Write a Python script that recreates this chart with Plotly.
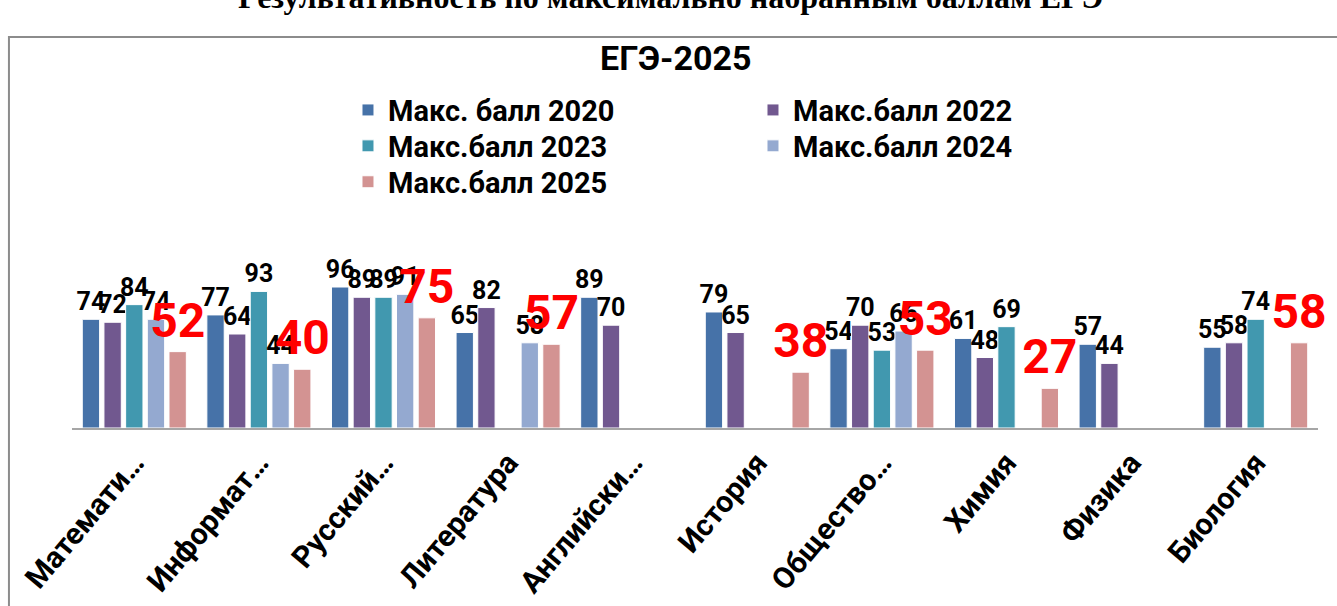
import plotly.graph_objects as go

categories = ["Математи…", "Информат…", "Русский…", "Литература", "Английски…",
              "История", "Общество…", "Химия", "Физика", "Биология"]
max_2020 = [74, 77, 96, 65, 89, 79, 54, 61, 57, 55]
max_2022 = [72, 64, 89, 82, 70, 65, 70, 48, 44, 58]
max_2023 = [84, 93, 89, None, None, None, 53, 69, None, 74]
max_2024 = [74, 44, 91, 58, None, None, 66, None, None, None]
max_2025 = [52, 40, 75, 57, None, 38, 53, 27, None, 58]

series_names = ["Макс. балл 2020", "Макс.балл 2022", "Макс.балл 2023",
                "Макс.балл 2024", "Макс.балл 2025"]
series_values = [max_2020, max_2022, max_2023, max_2024, max_2025]
colors = ["#4672A8", "#71588F", "#4198AF", "#94A9D0", "#D39392"]
# legend rows: (2020, 2022), (2023, 2024), (2025)
legend_ids = ["legend", "legend", "legend2", "legend2", "legend3"]

FONT = "Liberation Sans Narrow, Roboto, Arial, sans-serif"

fig = go.Figure()
for i, (name, vals) in enumerate(zip(series_names, series_values)):
    is_last = i == len(series_names) - 1
    fig.add_trace(go.Bar(
        name=name,
        x=categories,
        y=vals,
        text=["" if v is None else str(v) for v in vals],
        textposition="outside",
        constraintext="none",
        cliponaxis=False,
        textfont=dict(family=FONT, size=48 if is_last else 25,
                      color="#FF0000" if is_last else "#000000",
                      weight="bold"),
        marker=dict(color=colors[i], line=dict(color="#FFFFFF", width=1)),
        legend=legend_ids[i],
    ))

legend_common = dict(x=0.2215, xanchor="left", yanchor="middle",
                     orientation="h", entrywidth=360, entrywidthmode="pixels",
                     font=dict(family=FONT, size=29, weight="bold"),
                     bgcolor="rgba(0,0,0,0)")

fig.update_layout(
    width=1337, height=606,
    margin=dict(l=72, r=19, t=240, b=178, autoexpand=False),
    paper_bgcolor="white", plot_bgcolor="white",
    barmode="group", bargap=0.13, bargroupgap=0.2,
    showlegend=True,
    font=dict(family=FONT, color="#000000"),
    legend=dict(y=1.691, **legend_common),
    legend2=dict(y=1.500, **legend_common),
    legend3=dict(y=1.309, **legend_common),
    xaxis=dict(showline=True, linecolor="#A6A6A6", linewidth=2,
               ticks="", tickangle=-50, showgrid=False, ticklabelstandoff=3,
               automargin=False,
               tickfont=dict(family=FONT, size=30, weight="bold")),
    yaxis=dict(visible=False, range=[0, 128], showgrid=False, zeroline=False),
    annotations=[
        dict(text="ЕГЭ-2025", xref="paper", yref="paper", x=0.485, y=1.968,
             xanchor="center", yanchor="middle", showarrow=False,
             font=dict(family=FONT, size=34, weight="bold")),
        dict(text="Результативность по максимально набранным баллам ЕГЭ",
             xref="paper", yref="paper", x=0.48, y=2.29,
             xanchor="center", yanchor="middle", showarrow=False,
             font=dict(family="Liberation Serif, Times New Roman, serif",
                       size=32, weight="bold")),
    ],
    shapes=[
        dict(type="rect", xref="paper", yref="paper",
             x0=-0.0506, x1=1.03, y0=-1.0, y1=2.08,
             line=dict(color="#8C8C8C", width=2), fillcolor="rgba(0,0,0,0)",
             layer="below"),
    ],
)

fig.write_html(
    "out.html",
    config={"displayModeBar": False},
    post_script="document.body.style.margin='0';document.body.style.overflow='hidden';",
)
